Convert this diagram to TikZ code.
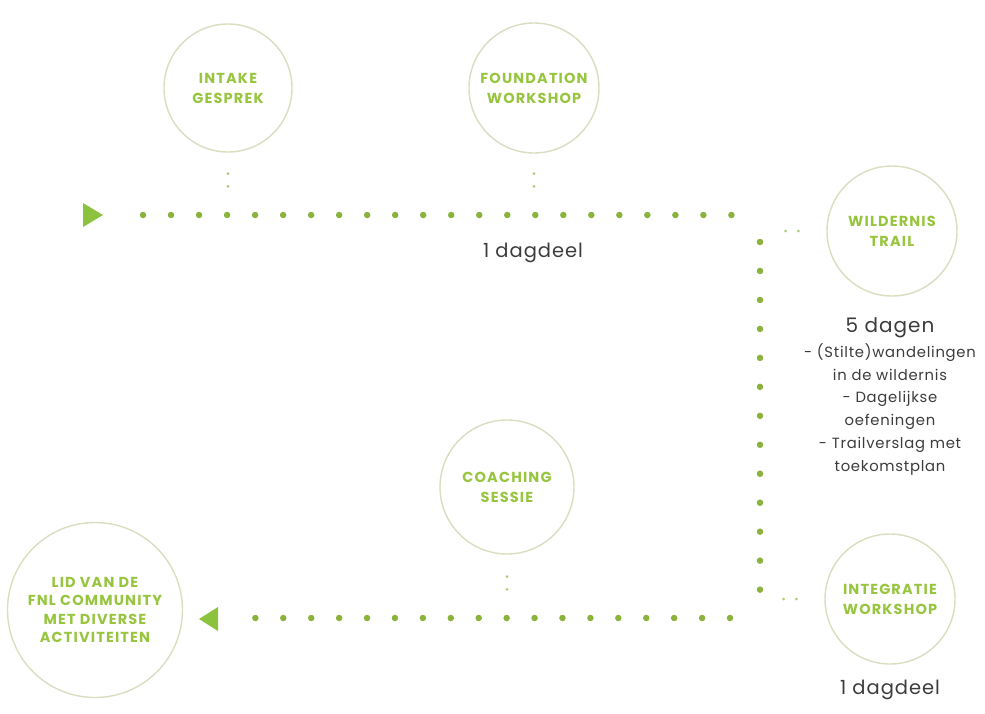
\documentclass[tikz,border=0pt]{standalone}
\usepackage{fontspec}
\setmainfont{Poppins}
\newfontfamily\stapfont[LetterSpace=8]{Poppins}
\newfontfamily\infofont[LetterSpace=5]{Poppins}
\usetikzlibrary{positioning}

\definecolor{dotgreen}{HTML}{8AB23C}
\definecolor{arrowgreen}{HTML}{8DC23F}
\definecolor{textgreen}{HTML}{98C53F}
\definecolor{ringgray}{HTML}{D8DEBF}
\definecolor{txtgray}{HTML}{3C3C3C}

\tikzset{
	stap/.style={circle, draw=ringgray, line width=1.4pt, minimum size=128pt, inner sep=0pt,
		align=center, text=textgreen, font=\stapfont\bfseries\fontsize{14.5}{20}\selectfont},
	pad/.style={draw=dotgreen, line width=6.5pt, line cap=round, dash pattern=on 0pt off #1},
	tussen/.style={draw=dotgreen!70, line width=3pt, line cap=round, dash pattern=on 0pt off 12.6pt},
	info/.style={text=txtgray, align=center, inner sep=1pt}
}

\begin{document}
\begin{tikzpicture}[x=1pt, y=-1pt]
	\useasboundingbox (0,0) rectangle (985,713);

	% de stappen
	\node[stap] (intake) at (228,88) {INTAKE\\GESPREK};
	\node[stap, minimum size=130pt] (foundation) at (534,88) {FOUNDATION\\WORKSHOP};
	\node[stap, minimum size=130pt] (wildernis) at (892,231) {WILDERNIS\\TRAIL};
	\node[stap, minimum size=134pt] (coaching) at (507,487) {COACHING\\SESSIE};
	\node[stap, minimum size=130pt] (integratie) at (890,599) {INTEGRATIE\\WORKSHOP};
	\node[stap, minimum size=175pt, font=\stapfont\bfseries\fontsize{14.5}{18.5}\selectfont] (lid) at (95,610)
		{LID VAN DE\\FNL COMMUNITY\\MET DIVERSE\\ACTIVITEITEN};

	% het pad
	\coordinate (a1) at (143,215);
	\coordinate (a2) at (732,215);
	\coordinate (b1) at (760,242);
	\coordinate (b2) at (760,590);
	\coordinate (c1) at (730,618);
	\coordinate (c2) at (255,618);
	\draw[pad=28.02pt] (a1) -- (a2);
	\draw[pad=28.97pt] (b1) -- (b2);
	\draw[pad=27.92pt] (c1) -- (c2);

	\fill[arrowgreen] (83,203) -- (103,215) -- (83,227) -- cycle;
	\fill[arrowgreen] (218,607) -- (199,619) -- (218,631) -- cycle;

	% kleine puntjes naar de stappen
	\draw[tussen] ([yshift=-21pt]intake.south) -- ++(0,13);
	\draw[tussen] ([yshift=-20pt]foundation.south) -- ++(0,13);
	\draw[tussen] ([yshift=-22pt]coaching.south) -- ++(0,13);
	\draw[tussen] ([xshift=-28pt]wildernis.west) -- ++(-13,0);
	\draw[tussen] ([xshift=-28pt]integratie.west) -- ++(-13,0);

	% duur
	\node[info, font=\infofont\fontsize{19.5}{22}\selectfont] (dagdeel1) at (533,253) {1 dagdeel};
	\node[info, font=\infofont\fontsize{20}{24}\selectfont] (dagen) at (890,328) {5 dagen};
	\node[info, font=\infofont\fontsize{14.8}{22.8}\selectfont, below=3pt of dagen] (lijst)
		{- (Stilte)wandelingen\\in de wildernis\\- Dagelijkse\\oefeningen\\- Trailverslag met\\toekomstplan};
	\node[info, font=\infofont\fontsize{19.5}{22}\selectfont] (dagdeel2) at (890,690) {1 dagdeel};
\end{tikzpicture}
\end{document}
